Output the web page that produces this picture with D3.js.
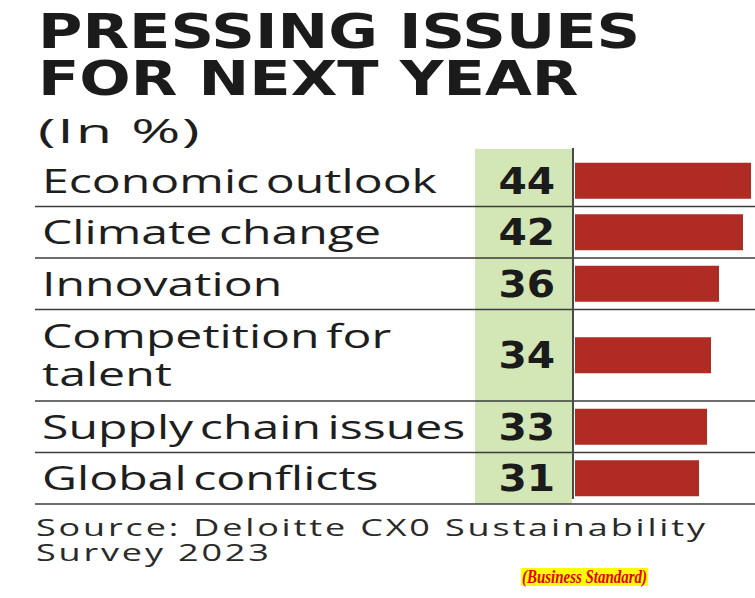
<!DOCTYPE html>
<html>
<head>
<meta charset="utf-8">
<script src="https://cdn.jsdelivr.net/npm/d3@7"></script>
<style>
  body { margin: 0; background: #fff; }
  svg { display: block; }
  .title { font-family: "DejaVu Sans", sans-serif; font-weight: bold; fill: #1b1b1b; }
  .label { font-family: "Open Sans", sans-serif; fill: #1e1e1e; }
  .value { font-family: "DejaVu Sans", sans-serif; font-weight: bold; fill: #1b1b1b; }
  .source { font-family: "Open Sans", sans-serif; fill: #2a2a2a; }
</style>
</head>
<body>
<div id="main"></div>
<script>
const W = 755, H = 598;

// data
const titleLines = ["PRESSING ISSUES", "FOR NEXT YEAR"];
const subtitle = "(In %)";
const labelLines = [
    ["Economic outlook"],
    ["Climate change"],
    ["Innovation"],
    ["Competition for", "talent"],
    ["Supply chain issues"],
    ["Global conflicts"]
];
const values = [44, 42, 36, 34, 33, 31];
const sourceLines = ["Source: Deloitte CX0 Sustainability", "Survey 2023"];
const credit = "(Business Standard)";

const layout = {
    left: 42,
    rowTop: 155,
    rowBase: 51.5,
    lineExtra: 40,
    colX0: 475,
    colX1: 572,
    barX0: 575,
    barH: 36
};

function createViz() {
    let svg = d3.select("#main").append("svg")
        .attr("width", W)
        .attr("height", H);

    // title
    svg.append("g").selectAll("text")
        .data(titleLines)
        .enter()
        .append("text")
        .attr("class", "title")
        .attr("font-size", 48)
        .attr("transform", (d, i) => `translate(38,${48 + i * 47}) scale(1.262,1)`)
        .text(d => d);

    svg.append("text")
        .attr("class", "label")
        .attr("font-size", 33)
        .attr("letter-spacing", 1)
        .attr("transform", "translate(38,143) scale(1.8,1)")
        .text(subtitle);

    // rows, heights grow with the number of label lines
    let rows = [];
    let y = layout.rowTop;
    labelLines.forEach((lines, i) => {
        let h = layout.rowBase + layout.lineExtra * (lines.length - 1);
        rows.push({ lines: lines, value: values[i], y0: y, y1: y + h, cy: y + h / 2 });
        y += h;
    });

    // green value column
    svg.append("rect")
        .attr("x", layout.colX0)
        .attr("y", layout.rowTop - 6)
        .attr("width", layout.colX1 - layout.colX0)
        .attr("height", rows[rows.length - 1].y1 - layout.rowTop + 6)
        .attr("fill", "#d3e6b6");

    let x = d3.scaleLinear()
        .domain([0, d3.max(values)])
        .range([layout.barX0, layout.barX0 + 176]);

    // bars
    svg.append("g").selectAll("rect")
        .data(rows)
        .enter()
        .append("rect")
        .attr("x", x(0))
        .attr("y", d => d.cy - layout.barH / 2)
        .attr("width", d => x(d.value) - x(0))
        .attr("height", layout.barH)
        .attr("fill", "#b02b23");

    // separators
    svg.append("g").selectAll("line")
        .data(rows)
        .enter()
        .append("line")
        .attr("x1", 35)
        .attr("x2", W)
        .attr("y1", d => d.y1)
        .attr("y2", d => d.y1)
        .attr("stroke", "#3c3c3c")
        .attr("stroke-width", 1.5);

    // axis line at the start of the bars
    svg.append("line")
        .attr("x1", layout.colX1 + 1)
        .attr("x2", layout.colX1 + 1)
        .attr("y1", layout.rowTop - 7)
        .attr("y2", rows[rows.length - 1].y1 - 5)
        .attr("stroke", "#4a4a4a")
        .attr("stroke-width", 2);

    // labels
    let lab = svg.append("g");
    rows.forEach(r => {
        let n = r.lines.length;
        r.lines.forEach((t, j) => {
            lab.append("text")
                .attr("class", "label")
                .attr("font-size", 33)
                .attr("word-spacing", -4)
                .attr("transform", `translate(${layout.left},${r.cy + 12 + (j - (n - 1) / 2) * 38}) scale(1.46,1)`)
                .text(t);
        });
    });

    // values
    svg.append("g").selectAll("text")
        .data(rows)
        .enter()
        .append("text")
        .attr("class", "value")
        .attr("font-size", 37)
        .attr("text-anchor", "end")
        .attr("transform", d => `translate(555,${d.cy + 13}) scale(1.1,1)`)
        .text(d => d.value);

    // source
    svg.append("g").selectAll("text")
        .data(sourceLines)
        .enter()
        .append("text")
        .attr("class", "source")
        .attr("font-size", 24)
        .attr("letter-spacing", 1.9)
        .attr("transform", (d, i) => `translate(36,${536 + i * 24.5}) scale(1.5,1)`)
        .text(d => d);

    // credit
    svg.append("rect")
        .attr("x", 521)
        .attr("y", 568)
        .attr("width", 127)
        .attr("height", 18)
        .attr("fill", "#ffff00");
    svg.append("text")
        .attr("x", 522)
        .attr("y", 583)
        .attr("textLength", 125)
        .attr("lengthAdjust", "spacingAndGlyphs")
        .attr("font-family", "Liberation Serif")
        .attr("font-style", "italic")
        .attr("font-weight", "bold")
        .attr("font-size", 19)
        .attr("fill", "#e00000")
        .text(credit);
}

createViz();
</script>
</body>
</html>
